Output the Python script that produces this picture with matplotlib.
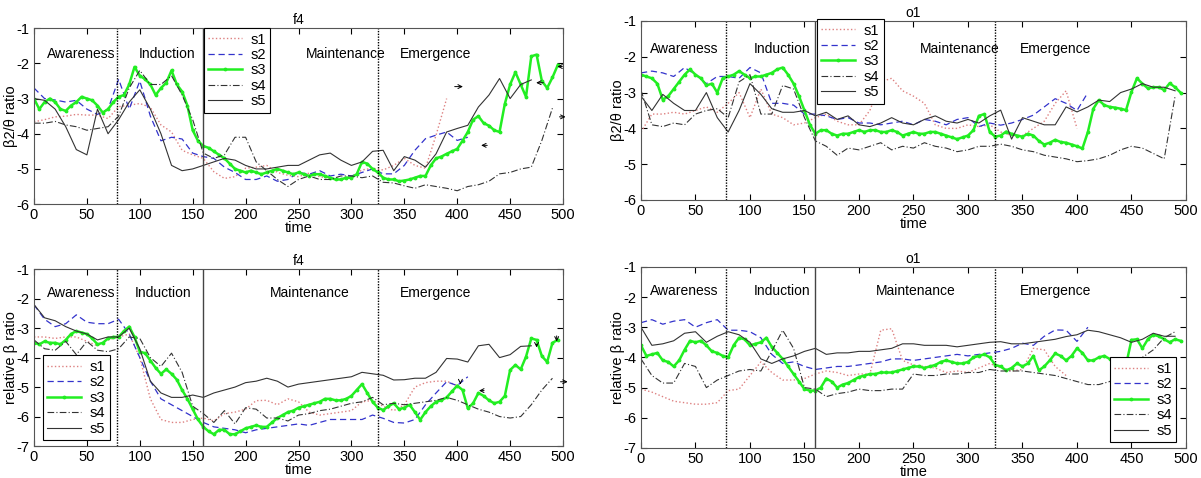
import numpy as np
import matplotlib
matplotlib.use("Agg")
import matplotlib.pyplot as plt

plt.rcParams['font.family'] = ['Liberation Sans', 'DejaVu Sans']
plt.rcParams['axes.unicode_minus'] = False

nan = np.nan
t10 = np.arange(0, 500, 10)   # thin lines, every 10 samples
t5 = np.arange(0, 500, 5)     # green line, every 5 samples

# ===== f4, beta2/theta ratio =====
f4_r_s1 = [-3.66, -3.6, -3.52, -3.5, -3.45, -3.47, -3.47, -3.57, -3.23, -3.19,
           -3.14, -3.25, -3.75, -3.95, -4.47, -4.6, -4.7, -5.08, -5.27, -5.22,
           -4.98, -4.95, -4.9, -5.1, -5.18, -5.22, -5.12, -5.22, -5.27, -5.3,
           -5.22, -5.03, -4.98, -5.03, -4.9, -4.7, -4.9, -4.98, -4.04, -3.0,
           nan, nan, nan, nan, nan, nan, nan, nan, nan, nan]
f4_r_s2 = [-2.7, -3.0, -3.04, -3.1, -3.05, -3.3, -3.45, -3.3, -2.45, -3.3,
           -2.5, -3.5, -4.2, -4.1, -4.15, -4.55, -4.65, -4.7, -4.95, -5.1,
           -5.3, -5.3, -5.2, -5.35, -5.3, -5.1, -5.15, -5.05, -5.2, -5.15,
           -5.2, -5.1, -5.0, -5.14, -5.14, -4.9, -4.47, -4.14, -4.04, -3.95,
           -4.19, -4.1, nan, nan, nan, nan, nan, nan, nan, nan]
f4_r_s3 = [-3.0, -3.3, -3.1, -3.0, -3.1, -3.3, -3.35, -3.2, -3.1, -2.95,
           -3.0, -3.05, -3.2, -3.4, -3.3, -3.1, -2.95, -2.9, -2.6, -2.1,
           -2.35, -2.45, -2.6, -2.9, -2.7, -2.55, -2.2, -2.6, -2.8, -3.2,
           -3.9, -4.2, -4.35, -4.4, -4.5, -4.6, -4.7, -4.85, -5.0, -5.05,
           -5.1, -5.05, -5.1, -5.15, -5.1, -5.05, -5.0, -5.05, -5.1, -5.15,
           -5.1, -5.15, -5.2, -5.15, -5.15, -5.2, -5.25, -5.3, -5.3, -5.25,
           -5.25, -5.15, -4.8, -4.85, -5.0, -5.1, -5.25, -5.3, -5.3, -5.35,
           -5.33, -5.3, -5.25, -5.2, -5.2, -4.9, -4.7, -4.65, -4.57, -4.5,
           -4.43, -4.2, -3.95, -3.6, -3.5, -3.7, -3.77, -3.9, -3.95, -3.15,
           -2.6, -2.25, -2.6, -2.95, -1.8, -1.75, -2.5, -2.7, -2.4, -2.05]
f4_r_s4 = [-3.7, -3.7, -3.65, -3.75, -3.8, -3.9, -3.85, -3.8, -3.5, -2.7,
           -2.2, -2.6, -2.6, -2.35, -2.9, -3.6, -4.55, -4.7, -4.6, -4.1,
           -4.1, -4.8, -5.05, -5.3, -5.5, -5.3, -5.2, -5.3, -5.3, -5.2,
           -5.2, -5.25, -5.2, -5.38, -5.4, -5.48, -5.55, -5.45, -5.5, -5.55,
           -5.62, -5.5, -5.45, -5.35, -5.14, -5.1, -5.0, -4.95, -4.19, -3.27]
f4_r_s5 = [-3.0, -3.05, -3.3, -3.8, -4.45, -4.6, -3.3, -4.0, -3.6, -3.1,
           -2.75, -3.3, -4.0, -4.9, -5.05, -5.0, -4.9, -4.8, -4.7, -4.75,
           -4.9, -5.0, -5.0, -4.95, -4.9, -4.9, -4.75, -4.6, -4.55, -4.75,
           -4.9, -4.8, -4.5, -4.47, -5.05, -4.65, -4.75, -4.95, -4.57, -3.95,
           -3.85, -3.76, -3.24, -2.9, -2.43, -3.0, -2.6, -2.47, nan, nan]

# ===== o1, beta2/theta ratio =====
o1_r_s1 = [-4.1, -3.6, -3.6, -3.55, -3.6, -3.5, -3.4, -3.55, -3.3, -3.0,
           -3.7, -2.9, -3.6, -3.7, -3.9, -3.85, -3.7, -3.6, -3.8, -3.9,
           -3.9, -3.5, -2.7, -2.6, -2.95, -3.1, -3.3, -3.9, -4.0, -4.0,
           -3.9, -3.95, -3.9, -4.1, -4.2, -4.2, -4.0, -3.8, -3.3, -2.95,
           -4.0, nan, nan, nan, nan, nan, nan, nan, nan, nan]
o1_r_s2 = [-2.45, -2.4, -2.45, -2.55, -2.3, -2.5, -2.75, -2.55, -2.55, -2.6,
           -2.3, -2.45, -3.3, -3.3, -3.35, -3.6, -3.6, -3.65, -3.75, -3.7,
           -3.85, -3.85, -3.9, -3.85, -3.8, -3.9, -3.75, -3.8, -3.9, -3.75,
           -3.7, -3.95, -3.85, -3.91, -3.85, -3.75, -3.63, -3.4, -3.17, -3.3,
           -3.5, -3.0, nan, nan, nan, nan, nan, nan, nan, nan]
o1_r_s3 = [-2.5, -2.55, -2.6, -2.75, -3.2, -3.1, -2.9, -2.7, -2.5, -2.35,
           -2.5, -2.6, -2.8, -2.75, -3.0, -2.6, -2.55, -2.5, -2.4, -2.5,
           -2.6, -2.55, -2.55, -2.5, -2.45, -2.35, -2.3, -2.5, -2.75, -3.1,
           -3.5, -3.9, -4.15, -4.05, -4.05, -4.15, -4.2, -4.15, -4.15, -4.1,
           -4.05, -4.1, -4.05, -4.05, -4.1, -4.1, -4.05, -4.1, -4.2, -4.15,
           -4.1, -4.15, -4.15, -4.1, -4.1, -4.15, -4.2, -4.25, -4.3, -4.25,
           -4.2, -4.05, -3.65, -3.6, -4.1, -4.23, -4.2, -4.09, -4.15, -4.2,
           -4.23, -4.15, -4.2, -4.35, -4.45, -4.4, -4.32, -4.38, -4.4, -4.45,
           -4.5, -4.56, -4.1, -3.45, -3.21, -3.35, -3.4, -3.42, -3.45, -3.49,
           -2.98, -2.6, -2.75, -2.88, -2.85, -2.85, -2.93, -2.74, -2.85, -3.0]
o1_r_s4 = [-2.93, -3.9, -3.95, -3.85, -3.9, -3.6, -3.5, -3.45, -3.7, -2.7,
           -2.5, -3.6, -3.6, -2.8, -2.9, -3.7, -4.35, -4.5, -4.75, -4.55,
           -4.6, -4.5, -4.4, -4.6, -4.5, -4.55, -4.4, -4.5, -4.55, -4.65,
           -4.6, -4.5, -4.5, -4.44, -4.5, -4.6, -4.65, -4.75, -4.8, -4.85,
           -4.93, -4.9, -4.85, -4.75, -4.6, -4.5, -4.55, -4.7, -4.85, -3.1]
o1_r_s5 = [-3.1, -3.5, -3.05, -3.3, -3.5, -3.5, -3.0, -3.7, -4.1, -3.5,
           -2.75, -3.05, -3.45, -3.55, -3.55, -3.5, -3.65, -3.55, -3.75, -3.65,
           -3.9, -3.95, -3.85, -3.7, -3.85, -3.9, -3.75, -3.65, -3.8, -3.85,
           -3.75, -3.85, -3.65, -3.49, -4.3, -3.7, -3.8, -3.9, -3.9, -3.4,
           -3.54, -3.4, -3.21, -3.25, -3.0, -2.9, -2.75, -2.85, -2.85, -2.95]

# ===== f4, relative beta ratio =====
f4_b_s1 = [-3.3, -3.3, -3.35, -3.3, -3.3, -3.45, -3.6, -3.4, -3.3, -3.2,
           -4.0, -5.4, -6.1, -6.2, -6.2, -6.1, -6.05, -6.15, -5.9, -5.85,
           -5.75, -5.46, -5.45, -5.6, -5.4, -5.5, -5.85, -5.95, -5.9, -5.85,
           -5.8, -5.5, -5.45, -5.65, -5.8, -5.6, -5.0, -4.85, -4.8, -4.8,
           -4.95, nan, nan, nan, nan, nan, nan, nan, nan, nan]
f4_b_s2 = [-2.21, -2.7, -2.95, -2.85, -2.55, -2.8, -2.85, -2.85, -2.7, -3.2,
           -4.0, -4.8, -5.4, -5.6, -5.8, -6.0, -6.2, -6.35, -6.4, -6.45,
           -6.55, -6.45, -6.4, -6.35, -6.3, -6.25, -6.3, -6.2, -6.1, -6.1,
           -6.1, -6.1, -5.95, -6.06, -6.2, -6.22, -6.1, -5.6, -5.2, -4.82,
           -4.95, -4.65, nan, nan, nan, nan, nan, nan, nan, nan]
f4_b_s3 = [-3.5, -3.55, -3.45, -3.5, -3.5, -3.55, -3.4, -3.2, -3.1, -3.15,
           -3.2, -3.35, -3.55, -3.5, -3.35, -3.3, -3.3, -3.1, -2.95, -3.3,
           -3.8, -3.85, -4.1, -4.35, -4.55, -4.4, -4.55, -4.75, -5.1, -5.4,
           -5.75, -6.1, -6.35, -6.5, -6.6, -6.45, -6.45, -6.6, -6.6, -6.5,
           -6.4, -6.35, -6.3, -6.35, -6.35, -6.2, -6.05, -5.95, -5.85, -5.8,
           -5.7, -5.65, -5.6, -5.55, -5.5, -5.4, -5.4, -5.45, -5.45, -5.4,
           -5.3, -5.1, -4.9, -5.2, -5.5, -5.7, -5.78, -5.65, -5.55, -5.75,
           -5.7, -5.6, -5.85, -6.11, -5.85, -5.65, -5.5, -5.45, -5.35, -5.15,
           -4.95, -5.1, -5.72, -5.55, -5.2, -5.3, -5.45, -5.55, -5.5, -5.3,
           -4.42, -4.25, -4.4, -3.97, -3.35, -3.4, -3.95, -4.15, -3.5, -3.4]
f4_b_s4 = [-3.4, -3.7, -3.75, -3.45, -3.9, -3.45, -3.75, -3.8, -3.7, -3.3,
           -3.35, -4.0, -4.3, -3.85, -4.5, -5.65, -5.9, -6.2, -5.8, -6.25,
           -5.7, -5.75, -6.05, -6.05, -6.15, -5.95, -5.9, -5.8, -5.75, -5.65,
           -5.55, -5.5, -5.35, -5.6, -5.55, -5.6, -5.55, -5.5, -5.45, -5.35,
           -5.45, -5.6, -5.75, -5.85, -6.0, -6.05, -6.0, -5.6, -5.1, -4.7]
f4_b_s5 = [-2.2, -2.65, -2.75, -2.95, -3.1, -3.2, -3.4, -3.3, -3.3, -3.0,
           -3.7, -4.8, -5.2, -5.35, -5.35, -5.27, -5.35, -5.2, -5.1, -5.0,
           -4.85, -4.8, -4.7, -4.8, -5.0, -4.9, -4.85, -4.8, -4.75, -4.7,
           -4.65, -4.5, -4.55, -4.6, -4.76, -4.75, -4.7, -4.7, -4.5, -4.03,
           -4.05, -4.15, -3.6, -3.55, -4.0, -3.9, -3.62, -3.6, nan, nan]

# ===== o1, relative beta ratio =====
o1_b_s1 = [-5.05, -5.15, -5.3, -5.45, -5.5, -5.55, -5.55, -5.5, -5.1, -5.05,
           -4.6, -4.15, -4.5, -4.75, -4.75, -4.7, -4.55, -4.45, -4.5, -4.6,
           -4.55, -4.55, -3.1, -3.05, -4.1, -4.25, -4.3, -4.35, -4.5, -4.45,
           -4.5, -4.35, -4.2, -4.35, -4.45, -4.4, -3.7, -3.75, -4.3, -4.6,
           nan, nan, nan, nan, nan, nan, nan, nan, nan, nan]
o1_b_s2 = [-2.85, -2.75, -2.9, -2.8, -2.75, -3.0, -2.85, -2.75, -3.1, -3.1,
           -3.15, -3.35, -3.9, -4.2, -4.15, -4.3, -4.4, -4.35, -4.3, -4.3,
           -4.25, -4.2, -4.15, -4.05, -4.05, -4.1, -4.05, -4.0, -3.95, -3.9,
           -3.95, -3.9, -3.85, -3.8, -3.7, -3.53, -3.6, -3.3, -3.09, -3.1,
           -3.47, -3.0, nan, nan, nan, nan, nan, nan, nan, nan]
o1_b_s3 = [-3.6, -3.95, -3.9, -3.85, -4.1, -4.15, -4.3, -4.1, -3.75, -3.45,
           -3.5, -3.45, -3.6, -3.8, -3.85, -3.95, -4.0, -3.6, -3.35, -3.4,
           -3.6, -3.55, -3.5, -3.35, -3.65, -3.85, -4.05, -4.3, -4.55, -4.8,
           -5.05, -5.1, -5.1, -5.0, -4.7, -4.8, -5.0, -4.9, -4.85, -4.75,
           -4.65, -4.6, -4.55, -4.55, -4.5, -4.5, -4.5, -4.45, -4.4, -4.35,
           -4.3, -4.3, -4.35, -4.3, -4.25, -4.15, -4.1, -4.15, -4.2, -4.2,
           -4.15, -4.0, -3.95, -3.9, -4.0, -4.25, -4.3, -4.43, -4.35, -4.2,
           -4.3, -4.2, -3.95, -4.43, -4.3, -4.1, -3.87, -3.95, -4.1, -3.95,
           -3.7, -3.85, -4.1, -4.1, -4.0, -3.95, -4.05, -4.15, -4.2, -4.25,
           -3.42, -3.4, -3.7, -3.4, -3.25, -3.3, -3.4, -3.5, -3.4, -3.45]
o1_b_s4 = [-4.05, -4.6, -4.85, -4.85, -4.2, -4.3, -5.0, -4.75, -4.6, -4.45,
           -4.4, -4.45, -3.8, -3.1, -3.7, -5.0, -5.05, -5.3, -5.2, -5.15,
           -5.05, -5.1, -5.1, -5.05, -5.05, -4.55, -4.6, -4.6, -4.55, -4.55,
           -4.5, -4.5, -4.4, -4.45, -4.45, -4.45, -4.5, -4.55, -4.6, -4.7,
           -4.8, -4.9, -4.9, -4.8, -4.55, -4.35, -4.0, -3.75, -3.35, -3.15]
o1_b_s5 = [-3.0, -3.6, -3.55, -3.45, -3.2, -3.15, -3.5, -3.3, -3.15, -3.25,
           -3.5, -4.05, -4.2, -4.05, -3.95, -3.8, -3.7, -3.9, -3.85, -3.85,
           -3.8, -3.8, -3.75, -3.7, -3.55, -3.55, -3.6, -3.6, -3.6, -3.65,
           -3.6, -3.55, -3.5, -3.48, -3.55, -3.55, -3.5, -3.45, -3.4, -3.31,
           -3.25, -3.1, -3.15, -3.25, -3.35, -3.5, -3.4, -3.2, -3.3, -3.3]

phases = ["Awareness", "Induction", "Maintenance", "Emergence"]
bounds = [78, 160, 325]


def draw_panel(ax, title, ylabel, ymin, series, label_x, label_y, legend_kw, arrows):
    s1, s2, s3, s4, s5 = series
    ax.plot(t10, s1, color="#dd8080", linestyle=":", lw=1.0, label="s1")
    ax.plot(t10, s2, color="#3333cc", linestyle=(0, (5, 3)), lw=0.9, label="s2")
    ax.plot(t5, s3, color="#22ee22", lw=1.8, marker=".", ms=3.5, label="s3")
    ax.plot(t10, s4, color="#333333", linestyle=(0, (6, 2, 1, 2)), lw=0.8, label="s4")
    ax.plot(t10, s5, color="#333333", lw=0.8, label="s5")

    ax.axvline(bounds[0], color="k", linestyle=(0, (1, 1)), lw=1.0)
    ax.axvline(bounds[1], color="#444444", lw=1.0)
    ax.axvline(bounds[2], color="k", linestyle=(0, (1, 1)), lw=1.0)
    for name, x in zip(phases, label_x):
        ax.text(x, label_y, name, ha="center", va="center", fontsize=10)

    for tip, tail in arrows:
        ax.annotate("", xy=tip, xytext=tail, annotation_clip=False,
                    arrowprops=dict(arrowstyle="->", color="k", lw=0.7, mutation_scale=7))

    ax.set_xlim(0, 500)
    ax.set_ylim(ymin, -1)
    ax.set_xticks(range(0, 501, 50))
    ax.set_yticks(range(ymin, 0))
    ax.tick_params(direction="in", top=True, right=True, labelsize=10.5, length=4, pad=3)
    for sp in ax.spines.values():
        sp.set_color("#555555")
    ax.set_title(title, fontsize=10, pad=3)
    ax.set_xlabel("time", fontsize=10.5, labelpad=-1)
    ax.set_ylabel(ylabel, fontsize=10.5, labelpad=-1)
    leg = ax.legend(fontsize=10.5, fancybox=False, framealpha=1, edgecolor="k",
                    borderaxespad=0, handlelength=2.3, handletextpad=0.6,
                    labelspacing=0.1, borderpad=0.3, **legend_kw)
    leg.get_frame().set_linewidth(0.8)


fig = plt.figure(figsize=(12.01, 4.78), dpi=100)
ax1 = fig.add_axes([0.0283, 0.573, 0.4405, 0.368])
ax2 = fig.add_axes([0.5337, 0.5816, 0.4538, 0.3745])
ax3 = fig.add_axes([0.0283, 0.0669, 0.4405, 0.370])
ax4 = fig.add_axes([0.5337, 0.0628, 0.4538, 0.379])

draw_panel(ax1, "f4", "β2/θ ratio", -6,
           (f4_r_s1, f4_r_s2, f4_r_s3, f4_r_s4, f4_r_s5),
           [45, 126, 295, 380], -1.74,
           dict(loc="upper left", bbox_to_anchor=(0.321, 1.0)),
           [((408, -2.66), (395, -2.66)), ((420, -4.33), (431, -4.33)),
            ((472, -2.55), (484, -2.55)), ((492, -2.09), (502, -2.09)),
            ((505, -3.52), (494, -3.52))])
draw_panel(ax2, "o1", "β2/θ ratio", -6,
           (o1_r_s1, o1_r_s2, o1_r_s3, o1_r_s4, o1_r_s5),
           [40, 129, 292, 380], -1.77,
           dict(loc="upper left", bbox_to_anchor=(0.323, 1.01)),
           [])
draw_panel(ax3, "f4", "relative β ratio", -7,
           (f4_b_s1, f4_b_s2, f4_b_s3, f4_b_s4, f4_b_s5),
           [45, 122, 261, 380], -1.8,
           dict(loc="lower left", bbox_to_anchor=(0.017, 0.034)),
           [((403, -5.0), (403, -4.75)), ((418, -5.12), (428, -5.12)),
            ((475, -3.75), (475, -3.45)), ((494, -3.55), (494, -3.17)),
            ((507, -4.82), (495, -4.82))])
draw_panel(ax4, "o1", "relative β ratio", -7,
           (o1_b_s1, o1_b_s2, o1_b_s3, o1_b_s4, o1_b_s5),
           [40, 129, 252, 380], -1.81,
           dict(loc="lower right", bbox_to_anchor=(0.982, 0.033)),
           [])

fig.savefig("out.png", dpi=100)
